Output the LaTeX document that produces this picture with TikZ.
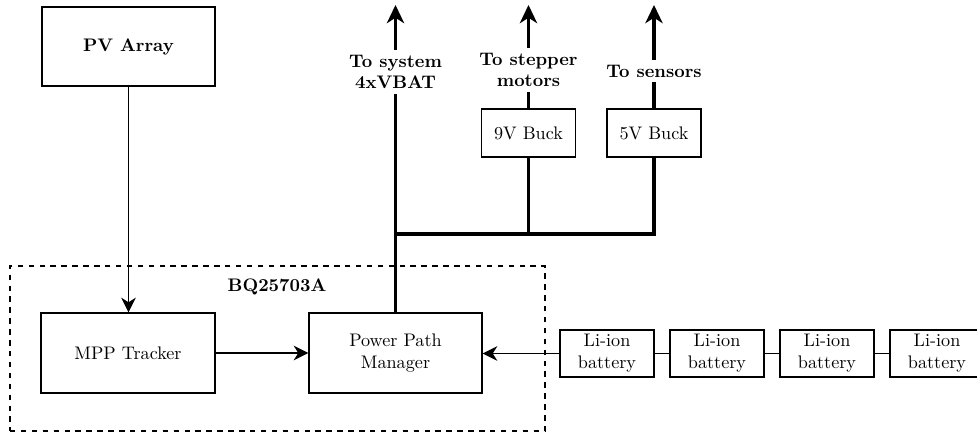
\documentclass[tikz,border=0pt]{standalone}
\usetikzlibrary{arrows.meta}
\begin{document}
\begin{tikzpicture}[x=0.55pt,y=-0.55pt,
  box/.style={draw, line width=0.8pt, inner sep=0pt, align=center},
  batt/.style={box, minimum width=51.7pt, minimum height=25.85pt},
  buck/.style={box, minimum width=51.7pt, minimum height=26.4pt},
  thinline/.style={line width=0.8pt},
  tarrow/.style={line width=0.8pt, -{Stealth[length=8pt,width=8pt,inset=2.5pt]}},
  thickline/.style={line width=1.8pt},
  thickarrow/.style={line width=1.8pt, -{Stealth[length=10pt,width=9.5pt,inset=3pt]}},
  lbl/.style={font=\bfseries, align=center, inner sep=2.6pt}]
\useasboundingbox (0,0) rectangle (977,432);

% dashed chip outline
\node[draw, dashed, line width=0.8pt, minimum width=294.25pt, minimum height=90.75pt, inner sep=0pt] (bq) at (277.5,348.5) {};
\node[lbl] (bqlbl) at (277,287) {BQ25703A};

% main blocks
\node[box, minimum width=95.15pt, minimum height=43.45pt, font=\bfseries] (pv) at (128.5,46.5) {PV Array};
\node[box, minimum width=95.7pt, minimum height=44pt] (mpp) at (128,353) {MPP Tracker};
\node[box, minimum width=95.15pt, minimum height=44pt] (ppm) at (395.5,353) {Power Path\\Manager};

% batteries
\node[batt] (b1) at (607,353.5) {Li-ion\\battery};
\node[batt] (b2) at (717,353.5) {Li-ion\\battery};
\node[batt] (b3) at (827,353.5) {Li-ion\\battery};
\node[batt] (b4) at (937,353.5) {Li-ion\\battery};

% bucks
\node[buck] (nine) at (528.5,133) {9V Buck};
\node[buck] (five) at (654,133) {5V Buck};

% bus reference
\coordinate (busy) at (0,234);
\coordinate (topy) at (0,5);
\coordinate (busL) at (ppm.north |- busy);

% labels
\node[lbl] (syslbl) at (ppm.north |- 0,72) {To system\\4xVBAT};
\node[lbl] (steplbl) at (528.5,70) {To stepper\\motors};
\node[lbl] (senlbl) at (654,71) {To sensors};

% tips
\coordinate (systop) at (ppm.north |- topy);
\coordinate (steptop) at (nine.north |- topy);
\coordinate (sentop) at (five.north |- topy);

% thin connectors
\draw[tarrow] (pv.south) -- (pv.south |- mpp.north);
\draw[tarrow] (mpp.east) -- (ppm.west);
\draw[tarrow] (b1.west) -- (ppm.east |- b1.west);
\draw[thinline] (b1.east) -- (b2.west);
\draw[thinline] (b2.east) -- (b3.west);
\draw[thinline] (b3.east) -- (b4.west);

% thick power lines
\draw[thickline] (five.south) |- (busL) -- (ppm.north);
\draw[thickline] (nine.south) -- (nine.south |- busL);
\draw[thickline] (busL) -- (syslbl.south);
\draw[thickarrow] (syslbl.north) -- (systop);
\draw[thickline] (nine.north) -- (steplbl.south);
\draw[thickarrow] (steplbl.north) -- (steptop);
\draw[thickline] (five.north) -- (senlbl.south);
\draw[thickarrow] (senlbl.north) -- (sentop);
\end{tikzpicture}
\end{document}
